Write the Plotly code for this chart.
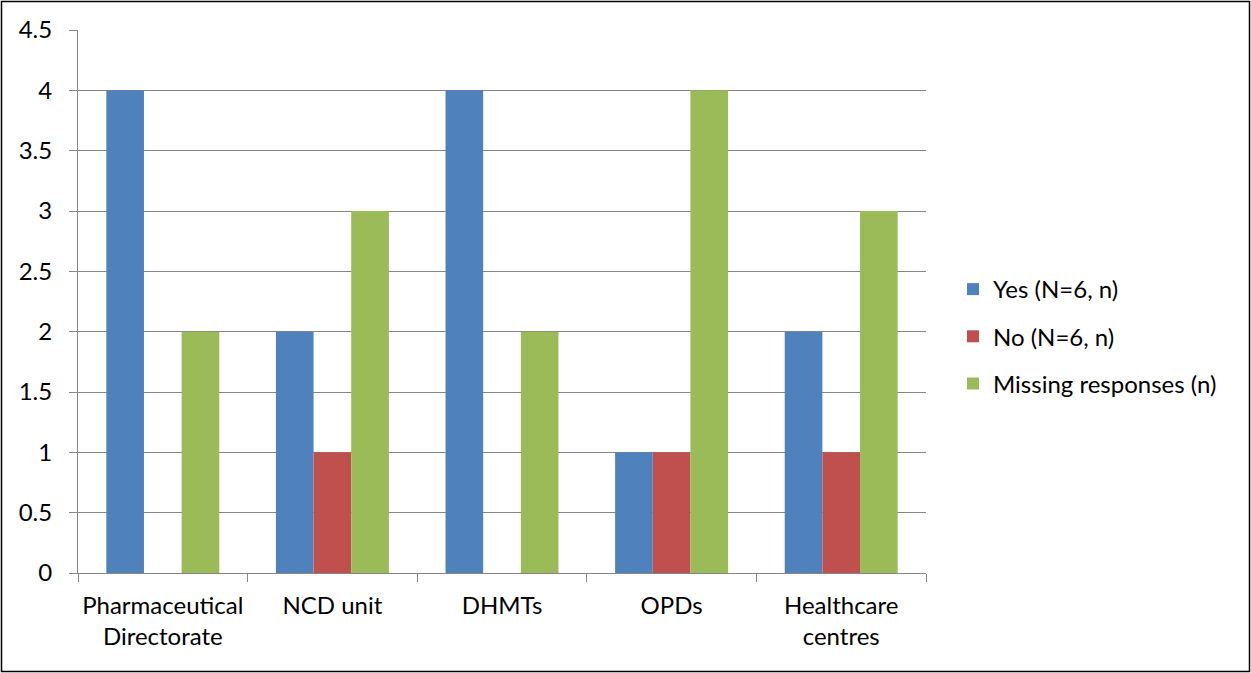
import plotly.graph_objects as go

categories = ["Pharmaceutical<br>Directorate", "NCD unit", "DHMTs", "OPDs", "Healthcare<br>centres"]
yes_vals = [4, 2, 4, 1, 2]
no_vals = [0, 1, 0, 1, 1]
missing_vals = [2, 3, 2, 4, 3]
y_ticks = [0, 0.5, 1, 1.5, 2, 2.5, 3, 3.5, 4, 4.5]
y_tick_labels = ["0", "0.5", "1", "1.5", "2", "2.5", "3", "3.5", "4", "4.5"]
series_names = ["Yes (N=6, n)", "No (N=6, n)", "Missing responses (n)"]
colors = ["#4F81BD", "#C0504D", "#9BBB59"]

FONT = "Lato"
FS = 24
W, H = 1251, 673
L, R, T, B = 78, 325, 30, 100
pw, ph = W - L - R, H - T - B

fig = go.Figure()
for name, vals, col, grp in zip(series_names, [yes_vals, no_vals, missing_vals], colors, ["a", "b", "c"]):
    fig.add_trace(go.Bar(x=categories, y=vals, name=name, marker=dict(color=col, line=dict(width=0)),
                         legendgroup=grp))

def px_x(p):
    return (p - L) / pw

def px_y(p):
    return (H - B - p) / ph

fig.update_layout(
    width=W, height=H,
    margin=dict(l=L, r=R, t=T, b=B, autoexpand=False),
    paper_bgcolor="white", plot_bgcolor="white",
    font=dict(family=FONT, size=FS, color="#000000"),
    barmode="group", bargap=0.334, bargroupgap=0,
    showlegend=True,
    legend=dict(x=px_x(953), y=px_y(267), xanchor="left", yanchor="top",
                font=dict(family=FONT, size=FS), tracegroupgap=13,
                traceorder="grouped", bgcolor="rgba(0,0,0,0)"),
    xaxis=dict(type="category", tickson="boundaries", ticks="outside", ticklen=8,
               tickangle=0, tickcolor="#868686", showline=True, linecolor="#868686", linewidth=1,
               showgrid=False, automargin=False, tickfont=dict(family=FONT, size=FS),
               ticklabelstandoff=11, fixedrange=True),
    yaxis=dict(range=[0, 4.5], tickmode="array", tickvals=y_ticks, ticktext=y_tick_labels,
               ticks="outside", ticklen=8,
               tickcolor="#868686", showline=True, linecolor="#868686", linewidth=1,
               showgrid=True, gridcolor="#868686", gridwidth=1, zeroline=False,
               automargin=False, ticklabelstandoff=12, tickfont=dict(family=FONT, size=FS),
               fixedrange=True),
    shapes=[dict(type="rect", xref="paper", yref="paper",
                 x0=px_x(1.5), x1=px_x(1249.5), y0=px_y(671.5), y1=px_y(1.5),
                 line=dict(color="black", width=1.5), fillcolor="rgba(0,0,0,0)", layer="above")],
)

fig.write_html("out.html", config={"displayModeBar": False},
               post_script="document.body.style.margin='0';document.body.style.overflow='hidden';")
